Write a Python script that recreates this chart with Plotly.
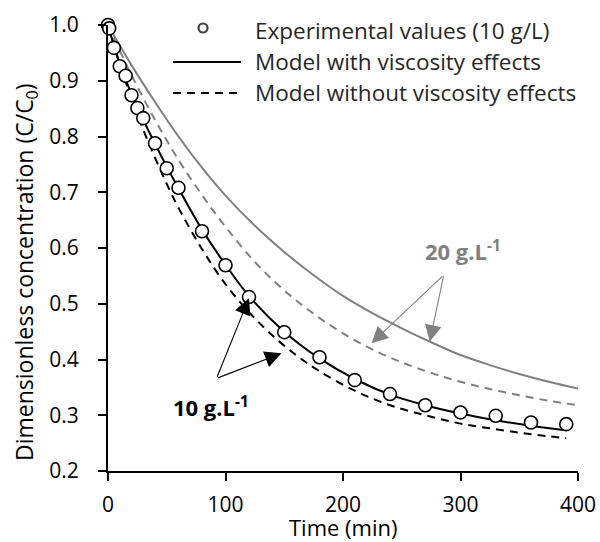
import plotly.graph_objects as go

# Experimental points, 10 g/L
t_exp = [0, 1, 5, 10, 15, 20, 25, 30, 40, 50, 60, 80, 100, 120, 150, 180, 210, 240, 270, 300, 330, 360, 390]
c_exp = [1.000, 0.994, 0.959, 0.926, 0.909, 0.874, 0.851, 0.833, 0.788, 0.743, 0.708, 0.630, 0.569,
         0.512, 0.449, 0.404, 0.363, 0.338, 0.318, 0.305, 0.299, 0.287, 0.284]

# Model curves, 10 g/L
t_visc10 = [0, 5, 10, 20, 30, 40, 50, 60, 80, 100, 120, 150, 180, 210, 240, 270, 300, 330, 360, 390]
c_visc10 = [1.000, 0.963, 0.930, 0.876, 0.830, 0.787, 0.746, 0.707, 0.633, 0.570, 0.514, 0.450,
            0.402, 0.365, 0.337, 0.318, 0.303, 0.291, 0.281, 0.273]
t_novisc10 = [0, 10, 20, 30, 40, 50, 60, 80, 100, 120, 140, 160, 180, 210, 240, 270, 300, 330, 360, 390]
c_novisc10 = [1.000, 0.930, 0.868, 0.812, 0.762, 0.715, 0.672, 0.598, 0.535, 0.485, 0.443, 0.408,
              0.379, 0.344, 0.318, 0.300, 0.285, 0.275, 0.266, 0.259]

# Model curves, 20 g/L
t_visc20 = [0, 20, 40, 60, 80, 100, 125, 150, 175, 200, 225, 250, 275, 300, 325, 350, 375, 400]
c_visc20 = [1.000, 0.928, 0.862, 0.800, 0.744, 0.694, 0.640, 0.593, 0.551, 0.514, 0.483, 0.456,
            0.431, 0.408, 0.390, 0.374, 0.360, 0.348]
t_novisc20 = [0, 20, 40, 60, 80, 100, 125, 150, 175, 200, 225, 250, 275, 300, 325, 350, 375, 400]
c_novisc20 = [1.000, 0.910, 0.830, 0.758, 0.695, 0.638, 0.575, 0.524, 0.482, 0.447, 0.418, 0.395,
              0.376, 0.360, 0.347, 0.336, 0.326, 0.318]

legend_labels = ["Experimental values (10 g/L)", "Model with viscosity effects",
                 "Model without viscosity effects"]
x_ticks = [0, 100, 200, 300, 400]
y_ticks = [0.2, 0.3, 0.4, 0.5, 0.6, 0.7, 0.8, 0.9, 1.0]

W, H = 600, 542
ML, MR, MT, MB = 108, 22, 25, 71
PW, PH = W - ML - MR, H - MT - MB
GRAY = "#808080"
FONT = "Open Sans"


def px_x(px):
    return (px - ML) / PW


def px_y(py):
    return (H - MB - py) / PH


fig = go.Figure()
fig.add_trace(go.Scatter(x=t_visc20, y=c_visc20, mode="lines", line=dict(color=GRAY, width=2, shape="spline"),
                         showlegend=False, hoverinfo="skip"))
fig.add_trace(go.Scatter(x=t_novisc20, y=c_novisc20, mode="lines",
                         line=dict(color=GRAY, width=2, dash="8px,6px", shape="spline"),
                         showlegend=False, hoverinfo="skip"))
fig.add_trace(go.Scatter(x=t_novisc10, y=c_novisc10, mode="lines",
                         line=dict(color="black", width=2, dash="8px,6px", shape="spline"),
                         showlegend=False, hoverinfo="skip"))
fig.add_trace(go.Scatter(x=t_visc10, y=c_visc10, mode="lines", line=dict(color="black", width=2, shape="spline"),
                         showlegend=False, hoverinfo="skip"))
fig.add_trace(go.Scatter(x=t_exp, y=c_exp, mode="markers", cliponaxis=False,
                         marker=dict(symbol="circle", size=13, color="white", line=dict(color="black", width=1.6)),
                         showlegend=False))

annotations = []
# concentration labels
annotations.append(dict(x=302, y=0.596, xref="x", yref="y", text="<b>20 g.L<sup>-1</sup></b>",
                        showarrow=False, font=dict(family=FONT, size=22, color=GRAY)))
annotations.append(dict(x=88, y=0.315, xref="x", yref="y", text="<b>10 g.L<sup>-1</sup></b>",
                        showarrow=False, font=dict(family=FONT, size=22, color="black")))
# arrows pointing at the curves
for (hx, hy), (tx, ty), col in [((224.2, 0.429), (285.8, 0.5516), GRAY),
                                ((273.8, 0.432), (285.8, 0.5516), GRAY),
                                ((120.0, 0.510), (92.3, 0.366), "black"),
                                ((147.6, 0.411), (92.3, 0.366), "black")]:
    annotations.append(dict(x=hx, y=hy, xref="x", yref="y", ax=tx, ay=ty, axref="x", ayref="y",
                            text="", showarrow=True, arrowhead=2, arrowsize=3, arrowwidth=1.1,
                            arrowcolor=col, standoff=0, startstandoff=0))

# legend text
for lab, py in zip(legend_labels, [30, 61, 92]):
    annotations.append(dict(x=px_x(253), y=px_y(py), xref="paper", yref="paper", text=lab,
                            xanchor="left", yanchor="middle", showarrow=False,
                            font=dict(family=FONT, size=22.5, color="#262626")))

# axis titles
annotations.append(dict(x=px_x(25), y=px_y(272), xref="paper", yref="paper",
                        xanchor="center", yanchor="middle",
                        text="Dimensionless concentration (C/C<sub>0</sub>)", textangle=-90,
                        showarrow=False, font=dict(family=FONT, size=23, color="black")))
annotations.append(dict(x=px_x(343.5), y=px_y(527), xref="paper", yref="paper",
                        xanchor="center", yanchor="middle", text="Time (min)",
                        showarrow=False, font=dict(family=FONT, size=22, color="black")))

shapes = [
    dict(type="circle", xref="paper", yref="paper", xsizemode="pixel", ysizemode="pixel",
         xanchor=px_x(203), yanchor=px_y(28), x0=-4.5, x1=4.5, y0=-4.5, y1=4.5,
         line=dict(color="#404040", width=2.2), fillcolor="white"),
    dict(type="line", xref="paper", yref="paper", x0=px_x(173), x1=px_x(241), y0=px_y(62), y1=px_y(62),
         line=dict(color="black", width=2)),
    dict(type="line", xref="paper", yref="paper", x0=px_x(173), x1=px_x(241), y0=px_y(93), y1=px_y(93),
         line=dict(color="black", width=2, dash="8px,6px")),
]

fig.update_layout(
    width=W, height=H, margin=dict(l=ML, r=MR, t=MT, b=MB),
    paper_bgcolor="white", plot_bgcolor="white",
    showlegend=False, annotations=annotations, shapes=shapes,
    font=dict(family=FONT, color="black"),
    xaxis=dict(range=[0, 400], tickvals=x_ticks, showgrid=False, zeroline=False, automargin=False,
               showline=True, linecolor="black", linewidth=2, ticks="outside", ticklen=8,
               tickwidth=2, tickcolor="black", ticklabelstandoff=6,
               tickfont=dict(family=FONT, size=21, color="black")),
    yaxis=dict(range=[0.2, 1.0], tickvals=y_ticks, tickformat=".1f", showgrid=False, zeroline=False,
               automargin=False, showline=True, linecolor="black", linewidth=2, ticks="outside", ticklen=8,
               tickwidth=2, tickcolor="black", ticklabelstandoff=15,
               tickfont=dict(family=FONT, size=21, color="black")),
)

fig.write_html("out.html")
